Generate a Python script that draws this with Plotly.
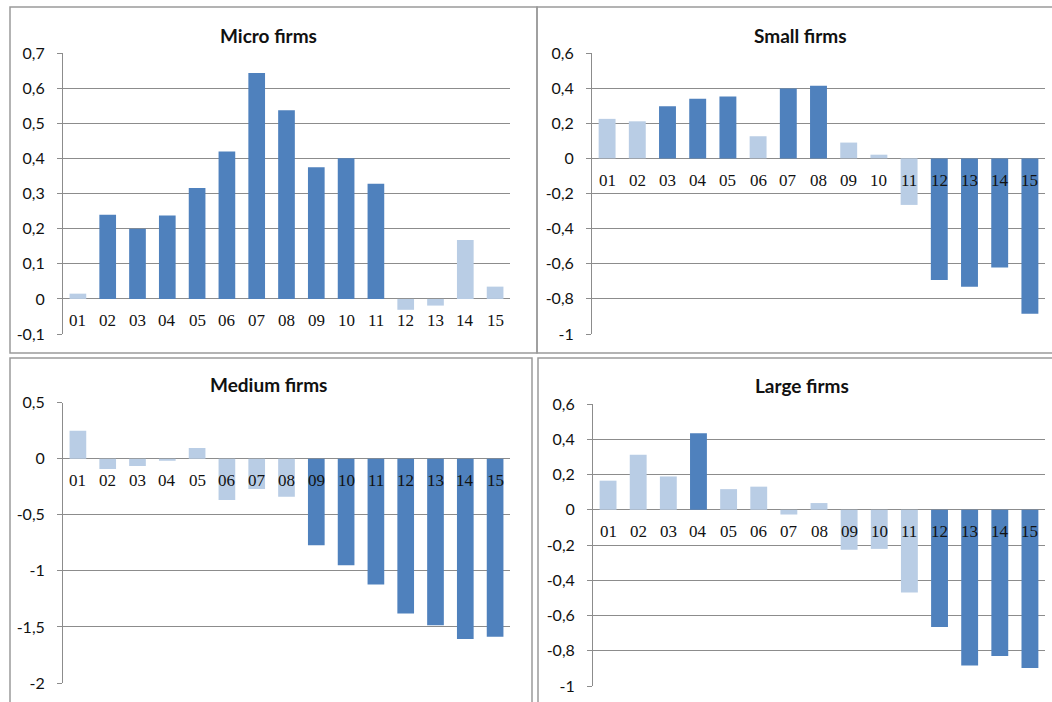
import plotly.graph_objects as go

# Category labels (years)
categories = ["01", "02", "03", "04", "05", "06", "07", "08",
              "09", "10", "11", "12", "13", "14", "15"]

# Estimated effects by firm size
micro_values = [0.015, 0.24, 0.20, 0.238, 0.316, 0.42, 0.644, 0.538,
                0.375, 0.401, 0.328, -0.031, -0.019, 0.168, 0.035]
small_values = [0.225, 0.211, 0.297, 0.339, 0.352, 0.126, 0.398, 0.413,
                0.09, 0.021, -0.265, -0.693, -0.731, -0.621, -0.884]
medium_values = [0.249, -0.092, -0.065, -0.018, 0.095, -0.368, -0.27, -0.338,
                 -0.772, -0.95, -1.122, -1.38, -1.484, -1.608, -1.588]
large_values = [0.165, 0.312, 0.189, 0.434, 0.117, 0.131, -0.027, 0.038,
                -0.227, -0.222, -0.47, -0.665, -0.884, -0.83, -0.898]

# Significant estimates are drawn dark, others light
micro_sig = [0, 1, 1, 1, 1, 1, 1, 1, 1, 1, 1, 0, 0, 0, 0]
small_sig = [0, 0, 1, 1, 1, 0, 1, 1, 0, 0, 0, 1, 1, 1, 1]
medium_sig = [0, 0, 0, 0, 0, 0, 0, 0, 1, 1, 1, 1, 1, 1, 1]
large_sig = [0, 0, 0, 1, 0, 0, 0, 0, 0, 0, 0, 1, 1, 1, 1]

# Y-axis ticks per panel
micro_ticks = [0.7, 0.6, 0.5, 0.4, 0.3, 0.2, 0.1, 0, -0.1]
micro_ticktext = ["0,7", "0,6", "0,5", "0,4", "0,3", "0,2", "0,1", "0", "-0,1"]
small_ticks = [0.6, 0.4, 0.2, 0, -0.2, -0.4, -0.6, -0.8, -1]
small_ticktext = ["0,6", "0,4", "0,2", "0", "-0,2", "-0,4", "-0,6", "-0,8", "-1"]
medium_ticks = [0.5, 0, -0.5, -1, -1.5, -2]
medium_ticktext = ["0,5", "0", "-0,5", "-1", "-1,5", "-2"]
large_ticks = [0.6, 0.4, 0.2, 0, -0.2, -0.4, -0.6, -0.8, -1]
large_ticktext = ["0,6", "0,4", "0,2", "0", "-0,2", "-0,4", "-0,6", "-0,8", "-1"]

DARK = "#4F81BD"
LIGHT = "#B9CDE5"
GRID = "#8C8C8C"
W, H = 1052, 702


def px_x(p):
    return p / W


def px_y(p):
    return 1 - p / H


panels = [
    dict(title="Micro firms", vals=micro_values, sig=micro_sig,
         ticks=micro_ticks, ticktext=micro_ticktext,
         xdom=(63, 510), ydom=(53.3, 334), title_xy=(268, 35)),
    dict(title="Small firms", vals=small_values, sig=small_sig,
         ticks=small_ticks, ticktext=small_ticktext,
         xdom=(592, 1045), ydom=(53, 334), title_xy=(800, 35)),
    dict(title="Medium firms", vals=medium_values, sig=medium_sig,
         ticks=medium_ticks, ticktext=medium_ticktext,
         xdom=(63, 510), ydom=(402.7, 683), title_xy=(268, 384)),
    dict(title="Large firms", vals=large_values, sig=large_sig,
         ticks=large_ticks, ticktext=large_ticktext,
         xdom=(593, 1045), ydom=(404, 686), title_xy=(802, 385)),
]

fig = go.Figure()
annotations = []
layout_axes = {}

for i, p in enumerate(panels):
    n = "" if i == 0 else str(i + 1)
    xa, ya = "x" + n, "y" + n
    colors = [DARK if s else LIGHT for s in p["sig"]]
    fig.add_trace(go.Bar(
        x=list(range(len(categories))), y=p["vals"],
        marker=dict(color=colors, line=dict(width=0)),
        xaxis=xa, yaxis=ya, showlegend=False, hoverinfo="y",
    ))
    layout_axes["xaxis" + n] = dict(
        domain=[px_x(p["xdom"][0]), px_x(p["xdom"][1])],
        anchor=ya, range=[-0.5, len(categories) - 0.5],
        showticklabels=False, showgrid=False, zeroline=False,
        showline=False, ticks="", automargin=False,
    )
    layout_axes["yaxis" + n] = dict(
        domain=[px_y(p["ydom"][1]), px_y(p["ydom"][0])],
        anchor=xa, range=[min(p["ticks"]), max(p["ticks"])],
        tickvals=p["ticks"], ticktext=p["ticktext"],
        showgrid=True, gridcolor=GRID, gridwidth=1,
        zeroline=True, zerolinecolor=GRID, zerolinewidth=1,
        showline=True, linecolor=GRID, linewidth=1,
        ticks="outside", ticklen=5, tickcolor=GRID,
        ticklabelstandoff=9, automargin=False,
        tickfont=dict(family="Lato, Open Sans, sans-serif", size=16, color="#111111"),
    )
    # Category labels sit just below the zero line
    for j, c in enumerate(categories):
        annotations.append(dict(
            x=j, y=0, xref=xa, yref=ya, text=c, showarrow=False,
            yanchor="middle", yshift=-22,
            font=dict(family="Liberation Serif, DejaVu Serif, serif", size=17, color="#111111"),
        ))
    annotations.append(dict(
        x=px_x(p["title_xy"][0]), y=px_y(p["title_xy"][1]),
        xref="paper", yref="paper", text="<b>" + p["title"] + "</b>",
        showarrow=False, xanchor="center", yanchor="middle",
        font=dict(family="Lato, Open Sans, sans-serif", size=19, color="#111111"),
    ))

# Panel frames
frames = [(10, 7, 537, 353), (537, 7, 1060, 353),
          (10, 358, 532, 710), (538, 358, 1060, 710)]
shapes = [dict(type="rect", xref="paper", yref="paper",
               x0=px_x(a), x1=px_x(c), y0=px_y(d), y1=px_y(b),
               line=dict(color="#9A9A9A", width=1.5), fillcolor="rgba(0,0,0,0)",
               layer="below")
          for a, b, c, d in frames]

fig.update_layout(
    width=W, height=H, margin=dict(l=0, r=0, t=0, b=0, pad=0),
    autosize=False,
    paper_bgcolor="white", plot_bgcolor="white",
    bargap=0.44, annotations=annotations, shapes=shapes,
    separators=", ",
    **layout_axes,
)

fig.write_html("out.html")
